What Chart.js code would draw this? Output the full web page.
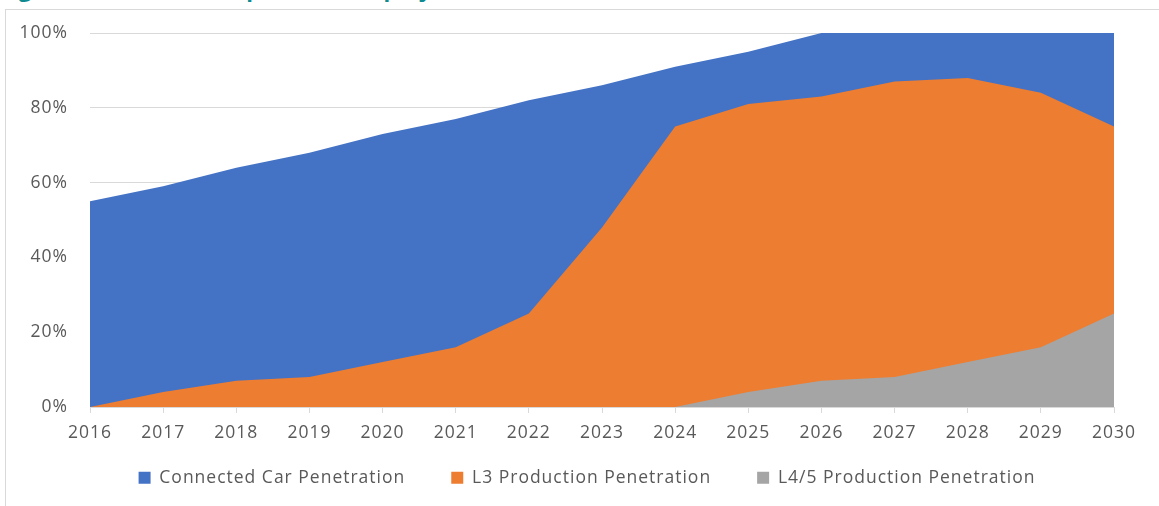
<!DOCTYPE html>
<html>
<head>
<meta charset="utf-8">
<script src="https://cdn.jsdelivr.net/npm/chart.js@4/dist/chart.umd.min.js"></script>
<style>
  html, body { margin: 0; padding: 0; background: #fff; }
  body { width: 1159px; height: 506px; position: relative; overflow: hidden; }
  .title {
    position: absolute; left: 0; top: -27px;
    font: bold 22px "Open Sans", sans-serif; color: #0f8a90;
    white-space: nowrap;
  }
  .frame {
    position: absolute; left: 5px; top: 9px; width: 1160px; height: 520px;
    border-left: 1px solid #d9d9d9; border-top: 1px solid #d9d9d9;
  }
  #wrap { position: absolute; left: 0; top: 0; width: 1159px; height: 506px; }
</style>
</head>
<body>
<div class="title">Figure 3: Autonomous penetration projections</div>
<div class="frame"></div>
<div id="wrap"><canvas id="chart"></canvas></div>
<script>
const years = ['2016','2017','2018','2019','2020','2021','2022','2023','2024','2025','2026','2027','2028','2029','2030'];
const connectedCar = [55, 59, 64, 68, 73, 77, 82, 86, 91, 95, 100, 100, 100, 100, 100];
const l3Production = [0, 4, 7, 8, 12, 16, 25, 48, 75, 81, 83, 87, 88, 84, 75];
const l45Production = [0, 0, 0, 0, 0, 0, 0, 0, 0, 4, 7, 8, 12, 16, 25];
const yTicks = [0, 20, 40, 60, 80, 100];

const FONT = '"Open Sans", sans-serif';

// wider letter spacing for all canvas text; legend box kept short, drawn a bit up and right
const tweaks = {
    id: 'tweaks',
    beforeInit(chart) { chart.ctx.letterSpacing = '1px'; },
    beforeUpdate(chart) {
        chart.ctx.letterSpacing = '1px';
        const lg = chart.legend;
        if (lg && !lg._patched) {
            const fit = lg.fit.bind(lg);
            lg.fit = function () { fit(); this.height = 45; };
            const draw = lg.draw.bind(lg);
            lg.draw = function () {
                const box = { top: this.top, bottom: this.bottom, left: this.left, right: this.right };
                this.top -= 28; this.bottom += 10;
                this.left += 30; this.right += 30;
                draw();
                Object.assign(this, box);
            };
            lg._patched = true;
        }
    }
};

const area = (label, data, color, order) => ({
    label, data, order,
    backgroundColor: color,
    borderColor: color,
    borderWidth: 0,
    pointRadius: 0,
    fill: 'origin',
    tension: 0
});

new Chart(document.getElementById('chart'), {
    type: 'line',
    data: {
        labels: years,
        datasets: [
            area('Connected Car Penetration', connectedCar, '#4472c4', 3),
            area('L3 Production Penetration', l3Production, '#ed7d31', 2),
            area('L4/5 Production Penetration', l45Production, '#a5a5a5', 1)
        ]
    },
    options: {
        responsive: true,
        maintainAspectRatio: false,
        animation: false,
        layout: { padding: { left: 0, right: 45, top: 33, bottom: 10 } },
        plugins: {
            tooltip: { enabled: false },
            legend: {
                position: 'bottom',
                labels: {
                    boxWidth: 12, boxHeight: 12, padding: 46,
                    color: '#595959',
                    font: { family: FONT, size: 17.5 },
                    sort: (a, b) => a.datasetIndex - b.datasetIndex
                }
            }
        },
        scales: {
            x: {
                offset: false,
                grid: { drawOnChartArea: false, drawTicks: true, tickLength: 6, color: '#d9d9d9' },
                border: { color: '#d9d9d9' },
                ticks: { color: '#595959', padding: 10, maxRotation: 0, autoSkip: false, font: { family: FONT, size: 17.5 } },
                afterFit: s => { s.height = 44; }
            },
            y: {
                min: 0, max: 100,
                afterBuildTicks: s => { s.ticks = yTicks.map(v => ({ value: v })); },
                afterFit: s => { s.width = 90; },
                grid: { color: '#d9d9d9', drawTicks: false },
                border: { display: false },
                ticks: { color: '#595959', padding: 22, font: { family: FONT, size: 17.5 }, callback: v => v + '%' }
            }
        }
    },
    plugins: [tweaks]
});
</script>
</body>
</html>
